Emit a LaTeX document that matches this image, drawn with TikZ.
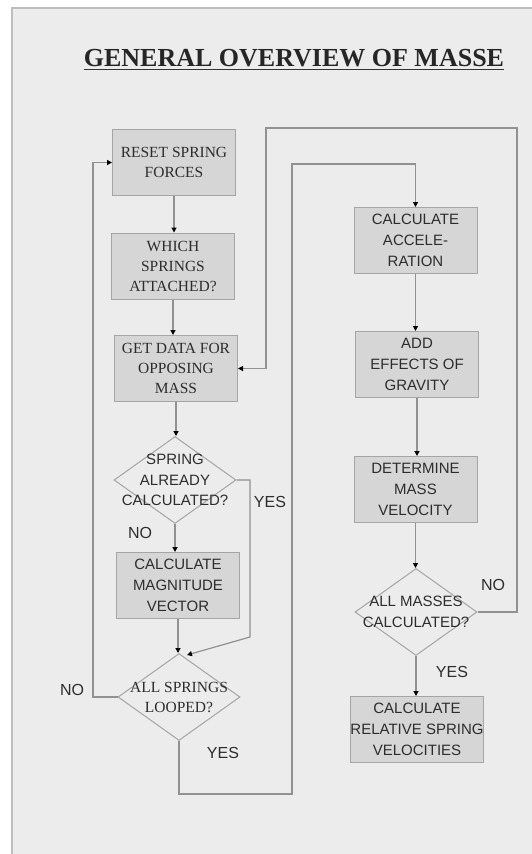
\documentclass[tikz,border=0pt]{standalone}
\usepackage{fontspec}
\setmainfont{Liberation Serif}
\newfontfamily\arialfont{Liberation Sans}
\usetikzlibrary{arrows.meta, shapes.geometric}
\definecolor{slidebg}{RGB}{236,236,236}
\definecolor{framegray}{RGB}{190,190,190}
\definecolor{boxfill}{RGB}{214,214,214}
\definecolor{edgegray}{RGB}{165,165,165}
\definecolor{linegray}{RGB}{145,145,145}
\definecolor{inkgray}{RGB}{45,45,45}

\begin{document}
\begin{tikzpicture}[x=1pt, y=-1pt,
  box/.style={draw=edgegray, fill=boxfill, line width=1pt, minimum width=123pt, minimum height=66pt, inner sep=0pt, align=center, text=inkgray},
  serifbox/.style={box, font=\fontsize{15.5}{20}\selectfont},
  sansbox/.style={box, font=\arialfont\fontsize{15}{21}\selectfont},
  dia/.style={diamond, draw=edgegray, fill=slidebg, line width=1pt, inner sep=0pt, minimum width=122pt, minimum height=87pt},
  serifdia/.style={align=center, text=inkgray, inner sep=0pt, font=\fontsize{15.5}{20}\selectfont},
  sansdia/.style={align=center, text=inkgray, inner sep=0pt, font=\arialfont\fontsize{15}{20.5}\selectfont},
  answer/.style={text=inkgray, font=\arialfont\fontsize{16}{18}\selectfont},
  flow/.style={draw=linegray, line width=1.2pt, -{Triangle[length=5pt,width=5pt,color=black]}}]
\useasboundingbox (0,0) rectangle (532,854);
\fill[white] (0,0) rectangle (532,854);
\fill[slidebg] (12,8) rectangle (532,854);
\draw[framegray, line width=1.5pt] (12,854) -- (12,8) -- (532,8);

\node[inner sep=0pt, anchor=base, text=black!85, font=\fontsize{26}{30}\selectfont\bfseries] (title) at (294,66) {GENERAL OVERVIEW OF MASSE};
\draw[black!80, line width=1.6pt] ([yshift=-3.5pt]title.base west) -- ([yshift=-3.5pt]title.base east);

\node[serifbox] (reset) at (174,162.5) {RESET SPRING\\FORCES};
\node[serifbox] (which) at (173,266) {WHICH\\SPRINGS\\ATTACHED?};
\node[serifbox] (getdata) at (176,368.5) {GET DATA FOR\\OPPOSING\\MASS};
\node[dia, label={[sansdia, name=alreadytext]center:SPRING\\ALREADY\\CALCULATED?}] (already) at (175,480) {};
\node[sansbox] (magnitude) at (178,585.5) {CALCULATE\\MAGNITUDE\\VECTOR};
\node[dia, label={[serifdia, name=loopedtext]center:ALL SPRINGS\\LOOPED?}] (looped) at (179,697) {};

\node[sansbox] (accel) at (415.5,240.5) {CALCULATE\\ACCELE-\\RATION};
\node[sansbox] (gravity) at (417,364.5) {ADD\\EFFECTS OF\\GRAVITY};
\node[sansbox] (velocity) at (415.5,489.5) {DETERMINE\\MASS\\VELOCITY};
\node[dia, label={[sansdia, name=massestext]center:ALL MASSES\\CALCULATED?}] (masses) at (416,612) {};
\node[sansbox] (relative) at (417,729.5) {CALCULATE\\RELATIVE SPRING\\VELOCITIES};

\node[answer] (yesalready) at (270,502) {YES};
\node[answer] (noalready) at (140,533) {NO};
\node[answer] (nolooped) at (72,690) {NO};
\node[answer] (yeslooped) at (223,753) {YES};
\node[answer] (nomasses) at (493,585) {NO};
\node[answer] (yesmasses) at (452,672) {YES};

\coordinate (yesbend) at (250,637);
\coordinate (loopin) at (187,655);
\coordinate (noleft) at (93,697);
\coordinate (yesfoot) at (179,794);
\coordinate (yesrise) at (292,164);
\coordinate (noright) at (517,612);
\coordinate (notop) at (266,128);

\draw[flow] (reset.south) -- (reset.south |- which.north);
\draw[flow] (which.south) -- (which.south |- getdata.north);
\draw[flow] (getdata.south) -- (getdata.south |- already.north);
\draw[flow] (already.south) -- (already.south |- magnitude.north);
\draw[flow] (magnitude.south) -- (magnitude.south |- looped.north);
\draw[flow] (already.east) -| (yesbend) -- (loopin);
\draw[flow] (looped.west) -- (noleft) |- (reset.west);
\draw[flow] (looped.south) -- (yesfoot) -| (yesrise) -| (accel.north);
\draw[flow] (accel.south) -- (accel.south |- gravity.north);
\draw[flow] (gravity.south) -- (gravity.south |- velocity.north);
\draw[flow] (velocity.south) -- (velocity.south |- masses.north);
\draw[flow] (masses.south) -- (masses.south |- relative.north);
\draw[flow] (masses.east) -- (noright) |- (notop) |- (getdata.east);
\end{tikzpicture}
\end{document}
